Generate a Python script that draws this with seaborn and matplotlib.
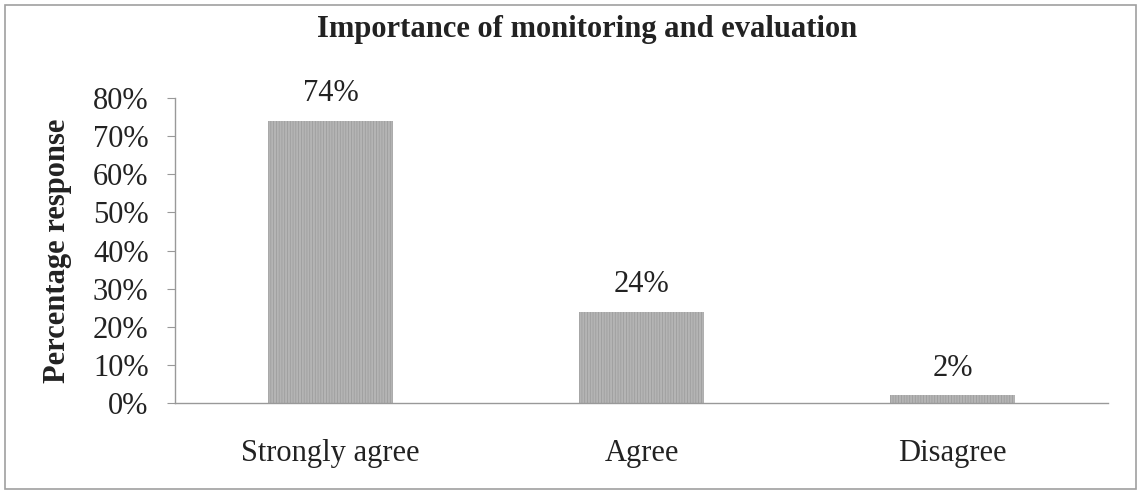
import matplotlib
matplotlib.use("Agg")
import matplotlib.pyplot as plt
import seaborn as sns
import pandas as pd
from matplotlib.patches import Rectangle

# data
categories = ["Strongly agree", "Agree", "Disagree"]
values = [74, 24, 2]
y_ticks = [0, 10, 20, 30, 40, 50, 60, 70, 80]

df = pd.DataFrame({"response": categories, "pct": values})

sns.set_style("white")
plt.rcParams["font.family"] = ["Liberation Serif", "DejaVu Serif"]
plt.rcParams["hatch.linewidth"] = 0.5

fig = plt.figure(figsize=(11.4, 4.93), dpi=100)
ax = fig.add_axes([175 / 1140, 1 - 403 / 493, (1108 - 175) / 1140, (403 - 98) / 493])

sns.barplot(data=df, x="response", y="pct", color="#b4b4b4", width=0.4,
            saturation=1, ax=ax)
for p in ax.patches:
    p.set_hatch("||||||")
    p.set_edgecolor("#999999")
    p.set_linewidth(0)

for i, v in enumerate(values):
    ax.annotate(f"{v}%", (i, v), xytext=(0, 9), textcoords="offset points",
                ha="center", va="bottom", fontsize=22, color="#222222")

ax.set_ylim(0, 80)
ax.set_xlim(-0.5, 2.5)
ax.set_yticks(y_ticks)
ax.set_yticklabels([f"{t}%" for t in y_ticks], fontsize=22, color="#222222")
ax.tick_params(axis="x", labelsize=22, colors="#222222", length=0, pad=26)
ax.tick_params(axis="y", length=6, width=0.8, color="#999999", pad=13, left=True)
ax.set_xlabel("")
ax.set_ylabel("Percentage response", fontsize=22, fontweight="bold",
              color="#222222", labelpad=15)

for s in ["top", "right"]:
    ax.spines[s].set_visible(False)
for s in ["left", "bottom"]:
    ax.spines[s].set_color("#999999")
    ax.spines[s].set_linewidth(1.0)

fig.text(587 / 1140, 1 - 30 / 493, "Importance of monitoring and evaluation",
         ha="center", va="center", fontsize=22, fontweight="bold", color="#222222")

# outer frame of the chart area
fig.patches.append(Rectangle((5 / 1140, 4 / 493), 1131 / 1140, 484 / 493,
                             transform=fig.transFigure, fill=False,
                             edgecolor="#a0a0a0", linewidth=1.2))

fig.savefig("out.png", dpi=100)
